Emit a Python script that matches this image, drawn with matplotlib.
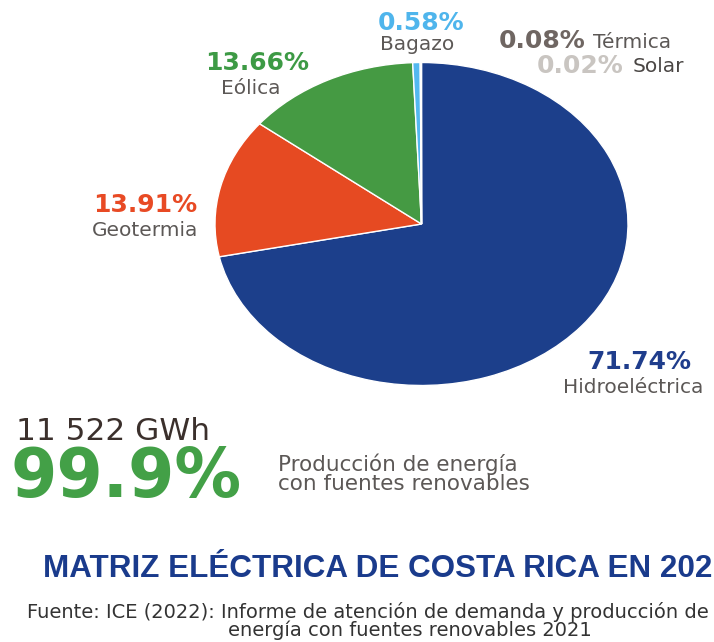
import matplotlib.pyplot as plt

# datos de la matriz electrica
fuentes = ['Hidroeléctrica', 'Geotermia', 'Eólica', 'Bagazo', 'Térmica', 'Solar']
porcentajes = [71.74, 13.91, 13.66, 0.58, 0.08, 0.02]
colores = ['#1c3f8b', '#e64a22', '#459a43', '#53b8f0', '#776d68', '#cbc7c3']
colores_texto = ['#1f3d8c', '#e84a24', '#3d9a45', '#4fb5ec', '#6f6662', '#c9c5c1']

total_gwh = '11 522 GWh'
renovable = 99.9
titulo = 'MATRIZ ELÉCTRICA DE COSTA RICA EN 2021'
fuente_1 = 'Fuente: ICE (2022): Informe de atención de demanda y producción de'
fuente_2 = 'energía con fuentes renovables 2021'

W, H = 714, 642
fig = plt.figure(figsize=(W / 100, H / 100), dpi=100)


def px(x, y):
    return x / W, 1 - y / H


# pastel (estirado en horizontal como el original)
ax = fig.add_axes([215 / W, (H - 385.5) / H, 413 / W, 323 / H])
ax.pie(porcentajes, colors=colores, startangle=90, counterclock=False, radius=1,
       wedgeprops=dict(edgecolor='white', linewidth=1))
ax.set_aspect('auto')
ax.set_xlim(-1, 1)
ax.set_ylim(-1, 1)
ax.axis('off')

gris = '#5c5856'
fs_pct = 18
fs_lab = 14.5

# posiciones de las etiquetas: (x, y_pct, ha_pct, x_lab, y_lab, ha_lab)
pos = {
    'Hidroeléctrica': (639, 369, 'center', 633.5, 393, 'center'),
    'Geotermia': (197, 212, 'right', 198, 236, 'right'),
    'Eólica': (257.5, 70.5, 'center', 250.5, 94, 'center'),
    'Bagazo': (378, 30, 'left', 380, 50, 'left'),
    'Térmica': (585, 48, 'right', 593, 48, 'left'),
    'Solar': (623, 73, 'right', 633, 72, 'left'),
}
for nombre, valor, ct in zip(fuentes, porcentajes, colores_texto):
    xp, yp, hap, xl, yl, hal = pos[nombre]
    fig.text(*px(xp, yp), f'{valor:.2f}%', color=ct, fontsize=fs_pct,
             fontweight='bold', ha=hap, va='baseline', family='DejaVu Sans')
    fig.text(*px(xl, yl), nombre, color=gris if nombre != 'Solar' else '#4a4644',
             fontsize=fs_lab, ha=hal, va='baseline', family='DejaVu Sans')

# bloque de resumen
fig.text(*px(16, 440), total_gwh, color='#3b302c', fontsize=22.5,
         ha='left', va='baseline', family='DejaVu Sans')
fig.text(*px(10, 497), f'{renovable}%', color='#43a047', fontsize=48,
         fontweight='bold', ha='left', va='baseline', family='DejaVu Sans')
fig.text(*px(278, 471), 'Producción de energía', color=gris, fontsize=15.5,
         ha='left', va='baseline', family='DejaVu Sans')
fig.text(*px(278, 490), 'con fuentes renovables', color=gris, fontsize=15.5,
         ha='left', va='baseline', family='DejaVu Sans')

# titulo y fuente
fig.text(*px(43, 577), titulo, color='#1a3b8c', fontsize=22.6, fontweight='bold',
         ha='left', va='baseline', family='Liberation Sans')
fig.text(*px(27, 618), fuente_1, color='#333333', fontsize=14,
         ha='left', va='baseline', family='DejaVu Sans')
fig.text(*px(410, 636), fuente_2, color='#333333', fontsize=14,
         ha='center', va='baseline', family='DejaVu Sans')

plt.savefig('out.png', dpi=100)
